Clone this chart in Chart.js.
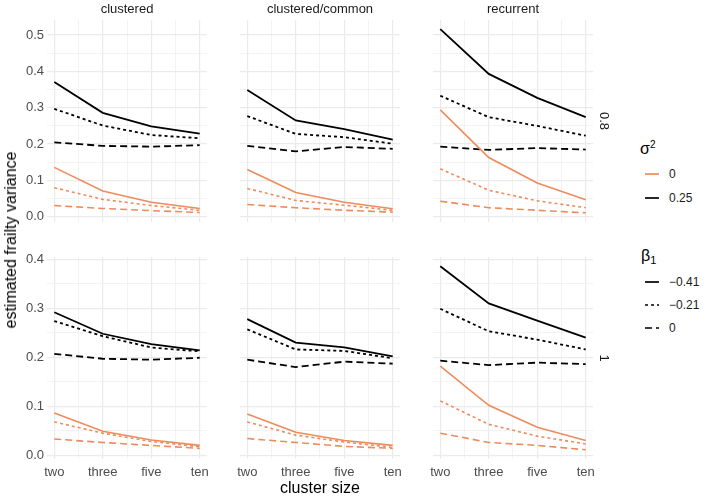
<!DOCTYPE html>
<html><head><meta charset="utf-8">
<script src="https://cdn.jsdelivr.net/npm/chart.js@4.4.1/dist/chart.umd.min.js"></script>
<style>
body{margin:0;background:#fff;}
#wrap{position:relative;width:709px;height:499px;overflow:hidden;background:#fff;font-family:"Liberation Sans",Arial,Helvetica,sans-serif;}
.t{position:absolute;white-space:nowrap;line-height:1;}
canvas{position:absolute;}
</style></head><body><div id="wrap"></div>
<script>
// ---------- data ----------
const clusterSizes = ['two', 'three', 'five', 'ten'];
const designs = ['clustered', 'clustered/common', 'recurrent'];
const rhoLevels = ['0.8', '1'];
const sigma2Levels = ['0', '0.25'];
const beta1Levels = ['\u22120.41', '\u22120.21', '0'];

// rows of each array: beta1 = -0.41, -0.21, 0 ; columns: two, three, five, ten
const rho08_clustered_s0    = [[0.136,0.071,0.040,0.023],[0.080,0.048,0.031,0.018],[0.031,0.023,0.017,0.012]];
const rho08_clustered_s025  = [[0.371,0.286,0.249,0.229],[0.297,0.251,0.225,0.216],[0.205,0.195,0.193,0.197]];
const rho08_common_s0       = [[0.130,0.067,0.040,0.022],[0.078,0.045,0.032,0.018],[0.034,0.025,0.018,0.013]];
const rho08_common_s025     = [[0.349,0.265,0.241,0.212],[0.277,0.228,0.219,0.201],[0.195,0.180,0.192,0.187]];
const rho08_recurrent_s0    = [[0.294,0.163,0.093,0.047],[0.132,0.073,0.044,0.025],[0.043,0.025,0.018,0.011]];
const rho08_recurrent_s025  = [[0.516,0.393,0.327,0.274],[0.333,0.274,0.250,0.223],[0.193,0.184,0.189,0.185]];
const rho1_clustered_s0     = [[0.086,0.049,0.031,0.020],[0.068,0.045,0.028,0.017],[0.033,0.026,0.020,0.014]];
const rho1_clustered_s025   = [[0.292,0.248,0.227,0.214],[0.274,0.243,0.220,0.212],[0.207,0.197,0.195,0.199]];
const rho1_common_s0        = [[0.084,0.047,0.030,0.020],[0.068,0.041,0.027,0.016],[0.034,0.026,0.018,0.014]];
const rho1_common_s025      = [[0.278,0.230,0.220,0.202],[0.257,0.216,0.213,0.198],[0.195,0.180,0.191,0.187]];
const rho1_recurrent_s0     = [[0.182,0.102,0.057,0.030],[0.111,0.063,0.039,0.023],[0.045,0.026,0.020,0.011]];
const rho1_recurrent_s025   = [[0.386,0.310,0.275,0.240],[0.299,0.253,0.236,0.216],[0.193,0.184,0.189,0.186]];

const panels = [
  [[rho08_clustered_s0, rho08_clustered_s025],[rho08_common_s0, rho08_common_s025],[rho08_recurrent_s0, rho08_recurrent_s025]],
  [[rho1_clustered_s0, rho1_clustered_s025],[rho1_common_s0, rho1_common_s025],[rho1_recurrent_s0, rho1_recurrent_s025]]
];

// ---------- style ----------
const FONT = '"Liberation Sans", Arial, Helvetica, sans-serif';
const sigmaColors = ['#EE8B5C', '#000000'];
const betaDash = [[], [3, 3], [7, 4]];
const gridCol = '#EBEBEB';
const panelX = [47, 240, 433], panelW = 160;
const panelY = [20, 257], panelH = 202;

const wrap = document.getElementById('wrap');

function rowRange(row) {
  let mn = Infinity, mx = -Infinity;
  panels[row].forEach(p => p.forEach(s => s.forEach(b => b.forEach(v => { mn = Math.min(mn, v); mx = Math.max(mx, v); }))));
  const e = (mx - mn) * 0.05;
  return [mn - e, mx + e];
}

function isMajor(v, step) { return Math.abs(v / step - Math.round(v / step)) < 1e-6; }

function makePanel(row, col) {
  const M = 14, yW = col === 0 ? 40 : 0, xH = row === 1 ? 24 : 0;
  const w = panelW + 2 * M + yW, h = panelH + 2 * M + xH;
  const cv = document.createElement('canvas');
  cv.width = w; cv.height = h;
  cv.style.left = (panelX[col] - M - yW) + 'px';
  cv.style.top = (panelY[row] - M) + 'px';
  cv.style.width = w + 'px'; cv.style.height = h + 'px';
  wrap.appendChild(cv);

  const datasets = [];
  panels[row][col].forEach((sArr, si) => {
    sArr.forEach((vals, bi) => {
      datasets.push({
        data: vals.map((v, i) => ({ x: i + 1, y: v })),
        borderColor: sigmaColors[si],
        borderWidth: si === 0 ? 1.6 : 1.8,
        borderDash: betaDash[bi],
        borderCapStyle: 'butt',
        pointRadius: 0,
        tension: 0,
        fill: false
      });
    });
  });

  const [ymin, ymax] = rowRange(row);
  const yTicks = [];
  for (let v = 0; v <= ymax + 1e-9; v += 0.05) yTicks.push(+v.toFixed(2));

  new Chart(cv, {
    type: 'line',
    data: { datasets },
    options: {
      responsive: false, animation: false, devicePixelRatio: 1,
      layout: { padding: M },
      plugins: { legend: { display: false }, tooltip: { enabled: false }, title: { display: false } },
      scales: {
        x: {
          type: 'linear', min: 0.85, max: 4.15,
          afterBuildTicks: s => { s.ticks = [1, 1.5, 2, 2.5, 3, 3.5, 4].map(v => ({ value: v })); },
          afterFit: s => { s.height = xH; },
          border: { display: false },
          grid: {
            drawTicks: false, color: gridCol,
            lineWidth: c => (c.tick && isMajor(c.tick.value, 1)) ? 1.2 : 0.6
          },
          ticks: {
            display: row === 1, padding: 6, autoSkip: false, maxRotation: 0,
            color: '#4D4D4D', font: { size: 13, family: FONT },
            callback: v => isMajor(v, 1) ? clusterSizes[Math.round(v) - 1] : ''
          }
        },
        y: {
          type: 'linear', min: ymin, max: ymax,
          afterBuildTicks: s => { s.ticks = yTicks.map(v => ({ value: v })); },
          afterFit: s => { s.width = yW; },
          border: { display: false },
          grid: {
            drawTicks: false, color: gridCol,
            lineWidth: c => (c.tick && isMajor(c.tick.value, 0.1)) ? 1.2 : 0.6
          },
          ticks: {
            display: col === 0, padding: 3, autoSkip: false,
            color: '#4D4D4D', font: { size: 13, family: FONT },
            callback: v => isMajor(v, 0.1) ? v.toFixed(1) : ''
          }
        }
      }
    }
  });
}

for (let r = 0; r < 2; r++) for (let c = 0; c < 3; c++) makePanel(r, c);

// ---------- text ----------
function text(str, cx, cy, size, color, rot, html) {
  const d = document.createElement('div');
  d.className = 't';
  if (html) d.innerHTML = str; else d.textContent = str;
  d.style.fontSize = size + 'px';
  d.style.color = color;
  d.style.left = cx + 'px';
  d.style.top = cy + 'px';
  d.style.transform = 'translate(-50%,-50%)' + (rot ? ' rotate(' + rot + 'deg)' : '');
  wrap.appendChild(d);
  return d;
}

designs.forEach((d, i) => text(d, panelX[i] + panelW / 2, 8, 13, '#1A1A1A'));
rhoLevels.forEach((r, i) => text(r, 604, panelY[i] + panelH / 2, 13, '#1A1A1A', 90));
text('estimated frailty variance', 11, (panelY[0] + panelY[1] + panelH) / 2, 16, '#000', -90);
text('cluster size', (panelX[0] + panelX[2] + panelW) / 2, 488, 16, '#000');

// ---------- legend ----------
function legendTitle(html, x, cy) {
  const d = document.createElement('div');
  d.className = 't';
  d.innerHTML = html;
  d.style.fontSize = '16px';
  d.style.left = x + 'px';
  d.style.top = (cy - 8) + 'px';
  d.style.color = '#000';
  wrap.appendChild(d);
}
function legendItem(label, color, dash, cy) {
  const svg = document.createElementNS('http://www.w3.org/2000/svg', 'svg');
  svg.setAttribute('width', 16); svg.setAttribute('height', 6);
  svg.style.position = 'absolute';
  svg.style.left = '644px'; svg.style.top = (cy - 3) + 'px';
  const ln = document.createElementNS('http://www.w3.org/2000/svg', 'line');
  ln.setAttribute('x1', 1); ln.setAttribute('x2', 15); ln.setAttribute('y1', 3); ln.setAttribute('y2', 3);
  ln.setAttribute('stroke', color); ln.setAttribute('stroke-width', 1.7);
  if (dash.length) ln.setAttribute('stroke-dasharray', dash.join(' '));
  svg.appendChild(ln);
  wrap.appendChild(svg);
  const d = document.createElement('div');
  d.className = 't';
  d.textContent = label;
  d.style.fontSize = '12px';
  d.style.color = '#1A1A1A';
  d.style.left = '669px';
  d.style.top = (cy - 6) + 'px';
  wrap.appendChild(d);
}
legendTitle('\u03C3<sup style="font-size:10px;vertical-align:6px;line-height:0">2</sup>', 640, 149);
sigma2Levels.forEach((s, i) => legendItem(s, sigmaColors[i], [], 174 + i * 24));
legendTitle('\u03B2<sub style="font-size:11px;vertical-align:-3px;line-height:0">1</sub>', 641, 256);
beta1Levels.forEach((b, i) => legendItem(b, '#000', betaDash[i], 282 + i * 23));
</script></body></html>
